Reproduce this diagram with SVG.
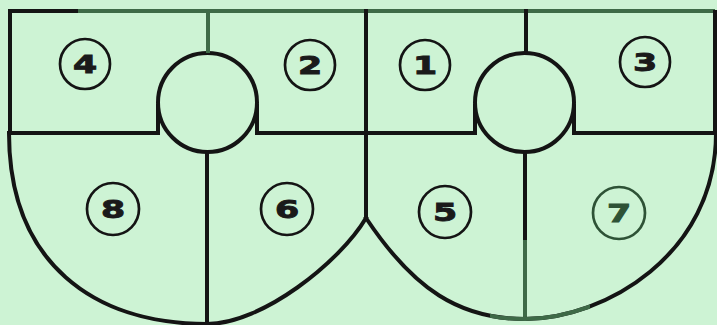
<svg xmlns="http://www.w3.org/2000/svg" width="717" height="325" viewBox="0 0 717 325">
<style>
.ln{fill:none;stroke:#141414;stroke-width:4;stroke-linecap:square;stroke-linejoin:miter}
.gn{fill:none;stroke:#3e6a47;stroke-width:4;stroke-linecap:butt}
.bc{fill:none;stroke:#141414;stroke-width:4}
.nc{fill:none;stroke:#141414;stroke-width:2.7}
.nt{font-family:"DejaVu Sans",sans-serif;font-weight:bold;font-size:24px;fill:#1a1a1a;stroke:#1a1a1a;stroke-width:0.9;text-anchor:middle}
</style>
<defs>
  <clipPath id="cg"><rect x="490" y="290" width="100" height="35"/></clipPath>
  <path id="rarc" d="M366,218 C414,290 460,319 525,319 C604,319 716,255 716,133"/>
</defs>
<rect width="717" height="325" fill="#cdf3d4"/>
<g id="connectors">
  <path class="ln" d="M10,11 H78"/>
  <path class="gn" d="M78,11 H715"/>
  <path class="ln" d="M10,11 V133"/>
  <path class="ln" d="M715,12 V133"/>
  <path class="ln" d="M10,133 H158 V106"/>
  <path class="ln" d="M257,106 V133 H475 V106"/>
  <path class="ln" d="M574,106 V133 H715"/>
  <circle class="bc" cx="207.5" cy="102.5" r="49.5"/>
  <circle class="bc" cx="524.5" cy="102.5" r="49.5"/>
  <path class="gn" d="M208,11 V53"/>
  <path class="ln" d="M526,11 V53"/>
  <path class="ln" d="M366,11 V218"/>
  <path class="ln" d="M207,152 V322"/>
  <path class="ln" d="M525,152 V240"/>
  <path class="gn" d="M525,240 V319"/>
  <path class="ln" d="M9,133 C9,263 94,324 207,324 C262,324 340,262 366,218"/>
  <use href="#rarc" class="ln"/>
  <use href="#rarc" class="gn" stroke-width="4.5" clip-path="url(#cg)"/>
</g>
<g id="n4"><circle class="nc" cx="85" cy="64" r="25"/><text class="nt" transform="translate(85,72.5) scale(1.45,1)">4</text></g>
<g id="n2"><circle class="nc" cx="310" cy="65" r="25"/><text class="nt" transform="translate(310,73.5) scale(1.45,1)">2</text></g>
<g id="n1"><circle class="nc" cx="425" cy="65" r="25"/><text class="nt" transform="translate(425,73.5) scale(1.45,1)">1</text></g>
<g id="n3"><circle class="nc" cx="645" cy="62" r="25"/><text class="nt" transform="translate(645,70.5) scale(1.45,1)">3</text></g>
<g id="n8"><circle class="nc" cx="113" cy="209" r="26"/><text class="nt" transform="translate(113,217.5) scale(1.45,1)">8</text></g>
<g id="n6"><circle class="nc" cx="287" cy="209" r="26"/><text class="nt" transform="translate(287,217.5) scale(1.45,1)">6</text></g>
<g id="n5"><circle class="nc" cx="445" cy="212" r="26"/><text class="nt" transform="translate(445,220.5) scale(1.45,1)">5</text></g>
<g id="n7"><circle class="nc" cx="619" cy="213" r="26" style="stroke:#2e5236"/><text class="nt" transform="translate(619,221.5) scale(1.45,1)" style="fill:#2e5236;stroke:#2e5236">7</text></g>
</svg>
